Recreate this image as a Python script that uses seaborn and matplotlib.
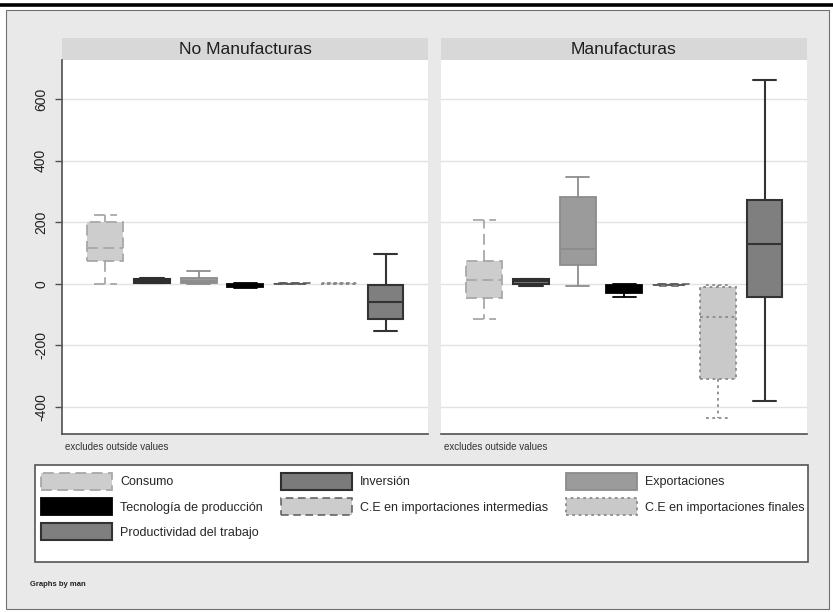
import numpy as np
import pandas as pd
import matplotlib
matplotlib.use("Agg")
import matplotlib.pyplot as plt
from matplotlib.patches import Patch, Rectangle
from matplotlib.lines import Line2D
import seaborn as sns

# ---- data -------------------------------------------------------------
series = [
    "Consumo",
    "Inversión",
    "Exportaciones",
    "Tecnología de producción",
    "C.E en importaciones intermedias",
    "C.E en importaciones finales",
    "Productividad del trabajo",
]
panels = ["No Manufacturas", "Manufacturas"]

# five-number summaries per series: lower whisker, q1, median, q3, upper whisker
no_manuf_lo = [0, 1, 0, -14, -2, -1, -152]
no_manuf_q1 = [75, 4, 2, -11, -1, 0, -115]
no_manuf_med = [115, 9, 10, -5, 0, 0, -60]
no_manuf_q3 = [200, 15, 20, -1, 1, 1, -3]
no_manuf_hi = [222, 18, 42, 2, 3, 2, 98]

manuf_lo = [-113, -8, -6, -44, -7, -437, -380]
manuf_q1 = [-46, 0, 62, -30, -5, -310, -44]
manuf_med = [13, 8, 114, -16, -3, -107, 130]
manuf_q3 = [73, 14, 283, -3, -1, -12, 273]
manuf_hi = [207, 17, 348, 0, 0, -3, 663]

y_ticks = [-400, -200, 0, 200, 400, 600]

summaries = {
    "No Manufacturas": [no_manuf_lo, no_manuf_q1, no_manuf_med, no_manuf_q3, no_manuf_hi],
    "Manufacturas": [manuf_lo, manuf_q1, manuf_med, manuf_q3, manuf_hi],
}

rows = []
for panel, stats in summaries.items():
    for i, s in enumerate(series):
        for arr in stats:
            rows.append({"panel": panel, "serie": s, "valor": arr[i]})
df = pd.DataFrame(rows)

# ---- styles -----------------------------------------------------------
styles = {
    "Consumo": dict(fill="#cdcdcd", edge="#a8a8a8", ls=(0, (6, 3)), lw=1.3),
    "Inversión": dict(fill="#7b7b7b", edge="#2f2f2f", ls="-", lw=1.5),
    "Exportaciones": dict(fill="#9b9b9b", edge="#8c8c8c", ls="-", lw=1.3),
    "Tecnología de producción": dict(fill="#000000", edge="#000000", ls="-", lw=1.3),
    "C.E en importaciones intermedias": dict(fill="#cccccc", edge="#5a5a5a", ls=(0, (5, 3)), lw=1.1),
    "C.E en importaciones finales": dict(fill="#c9c9c9", edge="#8a8a8a", ls=(0, (1.5, 2)), lw=1.3),
    "Productividad del trabajo": dict(fill="#7f7f7f", edge="#333333", ls="-", lw=1.5),
}

sns.set_style("white")
plt.rcParams["font.family"] = ["Liberation Sans", "DejaVu Sans"]
plt.rcParams["axes.unicode_minus"] = False

W, H = 833, 612
fig = plt.figure(figsize=(W / 100, H / 100), dpi=100, facecolor="white")


def fig_rect(x0, y0, x1, y1):
    return [x0 / W, 1 - y1 / H, (x1 - x0) / W, (y1 - y0) / H]


def fig_patch(x0, y0, x1, y1, **kw):
    r = Rectangle((x0 / W, 1 - y1 / H), (x1 - x0) / W, (y1 - y0) / H,
                  transform=fig.transFigure, **kw)
    fig.add_artist(r)
    return r


# outer graph region
fig_patch(6, 10, 829, 609, facecolor="#e9e9e9", edgecolor="#707070", lw=0.8, zorder=-5)
fig.add_artist(Line2D([0, 1], [1 - 5 / H, 1 - 5 / H], transform=fig.transFigure,
                      color="black", lw=2.6, zorder=-4))

ax_l = fig.add_axes(fig_rect(62, 60, 428, 434))
ax_r = fig.add_axes(fig_rect(441, 60, 807, 434), sharey=ax_l)
strip_x = {"No Manufacturas": (62, 428), "Manufacturas": (441, 807)}

for ax, panel in zip([ax_l, ax_r], panels):
    ax.set_facecolor("white")
    sub_panel = df[df["panel"] == panel]
    for s in series:
        st = styles[s]
        sns.boxplot(
            data=sub_panel[sub_panel["serie"] == s], x="serie", y="valor",
            order=series, color=st["fill"], linecolor=st["edge"],
            linewidth=st["lw"], width=0.77, whis=(0, 100), saturation=1,
            capwidths=0.5, ax=ax,
            boxprops=dict(linestyle=st["ls"]),
            whiskerprops=dict(linestyle=st["ls"]),
            capprops=dict(linestyle=st["ls"]),
            medianprops=dict(linestyle=st["ls"]),
        )
    ax.set_xlim(-0.93, 6.91)
    ax.set_ylim(-488, 727)
    ax.set_xticks([])
    ax.set_xlabel("")
    ax.set_ylabel("")
    ax.set_yticks(y_ticks)
    ax.yaxis.grid(True, color="#e2e2e2", lw=1.0)
    ax.set_axisbelow(True)
    for side in ["top", "right"]:
        ax.spines[side].set_visible(False)
    ax.spines["bottom"].set_color("#505050")
    ax.spines["bottom"].set_linewidth(1.2)

    x0, x1 = strip_x[panel]
    fig_patch(x0, 38, x1, 60, facecolor="#d8d8d8", edgecolor="none", zorder=-3)
    fig.text((x0 + x1) / 2 / W, 1 - 49 / H, panel, ha="center", va="center",
             fontsize=12.5, color="#1e1e1e")
    fig.text((x0 + 3) / W, 1 - 447 / H, "excludes outside values", ha="left",
             va="center", fontsize=7, color="#333333")

ax_l.spines["left"].set_color("#505050")
ax_l.spines["left"].set_linewidth(1.2)
ax_l.tick_params(axis="y", length=5, width=1, color="#505050", pad=5,
                 labelsize=10, labelcolor="#222222", left=True)
for lab in ax_l.get_yticklabels():
    lab.set_rotation(90)
    lab.set_va("center")
ax_r.spines["left"].set_visible(False)
ax_r.tick_params(axis="y", left=False, labelleft=False)

# legend
fig_patch(35, 465, 808, 562, facecolor="white", edgecolor="#555555", lw=1.2, zorder=-2)
legend_order = [0, 3, 6, 1, 4, 2, 5]
handles = [Patch(facecolor=styles[series[i]]["fill"], edgecolor=styles[series[i]]["edge"],
                 linestyle=styles[series[i]]["ls"], linewidth=styles[series[i]]["lw"])
           for i in legend_order]
labels = [series[i] for i in legend_order]
fig.legend(handles, labels, loc="upper left",
           bbox_to_anchor=(41 / W, 1 - 473 / H), bbox_transform=fig.transFigure,
           ncol=3, frameon=False, borderpad=0, borderaxespad=0,
           handlelength=5.7, handleheight=1.68, handletextpad=0.66,
           labelspacing=0.68, columnspacing=1.4, fontsize=9)

fig.text(30 / W, 1 - 584 / H, "Graphs by man", ha="left", va="center",
         fontsize=5.5, fontweight="bold", color="#222222")

fig.savefig("out.png", dpi=100, facecolor="white")
